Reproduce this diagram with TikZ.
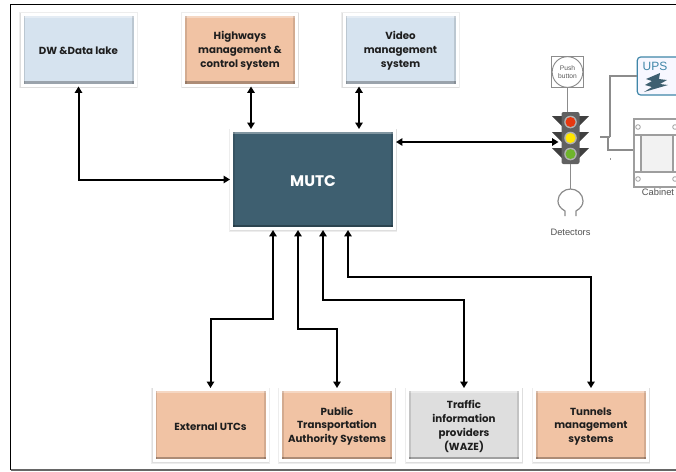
\documentclass[tikz,border=0pt]{standalone}
\usepackage{fontspec}
\setmainfont{Poppins}
\newfontfamily\lightsans{Liberation Sans}
\usetikzlibrary{arrows.meta}
\definecolor{boxblue}{HTML}{D6E3EF}
\definecolor{boxorange}{HTML}{F1C3A4}
\definecolor{boxgrey}{HTML}{DEDEDE}
\definecolor{boxdark}{HTML}{3E5F70}
\definecolor{txt}{HTML}{1E1E1E}
\definecolor{lightline}{HTML}{8C8C8C}
\definecolor{upsblue}{HTML}{3F86A8}
\definecolor{lred}{HTML}{E8380F}
\definecolor{lyellow}{HTML}{FFE600}
\definecolor{lgreen}{HTML}{6FB52C}
\newcommand\tup{\rule{0pt}{8pt}}
\tikzset{
  x=0.75pt,y=-0.75pt,
  sysbox/.style={draw=white,line width=2.25pt,minimum width=84.75pt,minimum height=53.25pt,
    align=center,text=txt,font=\fontsize{7.7}{10.4}\selectfont\bfseries,inner sep=0pt,
    preaction={draw=black!7,line width=3.8pt,transform canvas={yshift=-.5pt}},
    preaction={draw=black!13,line width=3pt,transform canvas={yshift=-.5pt}}},
  link/.style={line width=1.5pt,draw=black,{Triangle[length=4.8pt,width=5.5pt]}-{Triangle[length=4.8pt,width=5.5pt]}},
  thin line/.style={draw=lightline,line width=.8pt},
  small label/.style={font=\lightsans\fontsize{7}{8}\selectfont,text=black!68,inner sep=0pt},
}
\begin{document}
\begin{tikzpicture}
\useasboundingbox (0,0) rectangle (676,472);
\clip (0,0) rectangle (676,472);
\fill[white] (0,0) rectangle (676,472);
% frame
\draw[black,line width=1.1pt] (676,4.5) -- (10.5,4.5) -- (10.5,470);
\draw[black!60,line width=1.1pt] (10.5,470) -- (676,470);
% boxes
\node[sysbox,fill=boxblue]   (dw)   at (78.5,49.5) {\tup DW \&Data lake};
\node[sysbox,fill=boxorange] (hw)   at (240,49.5) {\tup Highways\\management \&\\control system};
\node[sysbox,fill=boxblue]   (vid)  at (400.5,49.5) {\tup Video\\management\\system};
\node[sysbox,fill=boxdark,minimum width=122.25pt,minimum height=73.5pt,text=white,font=\fontsize{11.5}{12}\selectfont\bfseries] (mutc) at (313,179.5) {\rule{0pt}{10pt}MUTC};
\node[sysbox,fill=boxorange] (ext)  at (210.5,425) {\tup External UTCs};
\node[sysbox,fill=boxorange] (pub)  at (337,425) {\tup Public\\Transportation\\Authority Systems};
\node[sysbox,fill=boxgrey]   (waze) at (464,425) {\tup Traffic\\information\\providers\\(WAZE)};
\node[sysbox,fill=boxorange] (tun)  at (591,425) {\tup Tunnels\\management\\systems};
\foreach \n in {dw,hw,vid,mutc,ext,pub,waze,tun}{
  \fill[black,opacity=.28] ([shift={(2.25pt,2.25pt)}]\n.south west) rectangle ([shift={(-2.25pt,4pt)}]\n.south east);
  \fill[white,opacity=.35] ([shift={(2.25pt,-2.25pt)}]\n.north west) rectangle ([shift={(-2.25pt,-4pt)}]\n.north east);
  \fill[black,opacity=.12] ([shift={(2.25pt,2.25pt)}]\n.south west) rectangle ([shift={(3.4pt,-2.25pt)}]\n.north west);
  \fill[black,opacity=.12] ([shift={(-2.25pt,2.25pt)}]\n.south east) rectangle ([shift={(-3.4pt,-2.25pt)}]\n.north east);
}
% traffic light
\node[draw=lightline,line width=.7pt,minimum size=23.5pt,inner sep=0pt] (push) at (567.5,72) {};
\node[draw=lightline,line width=.7pt,circle,minimum size=23pt,inner sep=0pt,align=center,text=black!65,font=\lightsans\fontsize{5}{6.5}\selectfont] (pushc) at (push) {Push\\button};
\foreach \yy in {116,132,148}{
  \fill[black!75] (552,\yy) -- (563,\yy) -- (563,\yy+11) -- cycle;
  \fill[black!75] (589,\yy) -- (578,\yy) -- (578,\yy+11) -- cycle;
}
\node[fill=black!62,rounded corners=1.5pt,minimum width=13.5pt,minimum height=39pt,inner sep=0pt] (light) at (570.5,138) {};
\fill[black!30] (570.5,122) circle (6.3);
\fill[black!30] (570.5,138) circle (6.3);
\fill[black!30] (570.5,154) circle (6.3);
\fill[lred] (570.5,122) circle (5);
\fill[lyellow] (570.5,138) circle (5);
\fill[lgreen] (570.5,154) circle (5);
\draw[thin line] (push.south) -- (push.south |- light.north);
\coordinate (det) at (570.5,189);
\draw[thin line] (light.south) -- (det);
\draw[thin line,line width=.9pt] (565,216) -- (565,211) .. controls (560,208) and (558,205) .. (558,201) .. controls (558,194) and (564,189) .. (det) .. controls (577,189) and (583,194) .. (583,201) .. controls (583,205) and (581,208) .. (576,211) -- (576,216);
\node[small label] (dets) at (570.5,232) {Detectors};
% UPS
\node[draw=upsblue,fill=blue!3,line width=.9pt,rounded corners=2.5pt,minimum width=40pt,minimum height=28.5pt,inner sep=0pt] (ups) at (664,76) {};
\node[font=\lightsans\fontsize{9}{9}\selectfont,text=upsblue,inner sep=0pt] (upst) at (655,66) {UPS};
\fill[boxdark] (660,73) -- (646,79) -- (652,81) -- (645,85) -- (652,87) -- (644,92) -- (668,85) -- (660,84) -- (667,80) -- (659,79) -- cycle;
% cabinet
\node[draw=black!38,fill=white,line width=.8pt,minimum width=60pt,minimum height=51pt,inner sep=0pt] (cab) at (674,153) {};
\draw[black!38,line width=.8pt,fill=black!5] (641,135) rectangle (673,172);
\draw[black!38,line width=.8pt] (634,135) -- (676,135) (634,172) -- (676,172);
\foreach \xx/\yy in {638/127,675/127,638/179,675/179}{\draw[black!38,line width=.6pt,fill=white] (\xx,\yy) circle (2.3);}
\node[small label] (cabt) at (658,192) {Cabinet};
\coordinate (j1) at (610,137);
\coordinate (j2) at (608,137);
\draw[thin line] (600,137) -- (j1);
\draw[thin line] (j1) |- (ups.west);
\draw[thin line] (j2) |- (cab.west |- 0,150);
\draw[black!40,line width=.5pt] (610,158) -- (610,160);
% connectors
\draw[link] (dw.south) |- (mutc.west);
\coordinate (a) at (251,0);
\draw[link] (a |- hw.south) -- (a |- mutc.north);
\coordinate (b) at (359,0);
\draw[link] (b |- vid.south) -- (b |- mutc.north);
\coordinate (c) at (0,142);
\draw[link] (c -| mutc.east) -- (558.5,142);
\coordinate (e1) at (273,319);
\draw[link] (e1 |- mutc.south) -- (e1) -| (ext.north);
\coordinate (e2) at (298,329);
\draw[link] (e2 |- mutc.south) -- (e2) -| (pub.north);
\coordinate (e3) at (323,300);
\draw[link] (e3 |- mutc.south) -- (e3) -| (waze.north);
\coordinate (e4) at (348,277);
\draw[link] (e4 |- mutc.south) -- (e4) -| (tun.north);
\end{tikzpicture}
\end{document}
